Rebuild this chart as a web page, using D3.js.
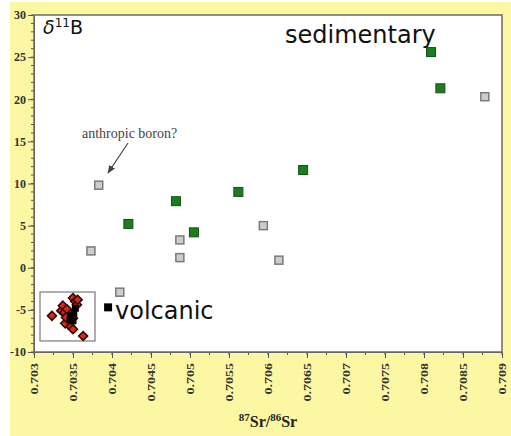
<!DOCTYPE html>
<html><head><meta charset="utf-8">
<script src="https://cdn.jsdelivr.net/npm/d3@7/dist/d3.min.js"></script>
<style>body{margin:0;background:#fff}svg{display:block}</style>
</head><body>
<svg id="c" width="511" height="436"></svg>
<script>
// ---- data ----
const xTickValues = [0.703,0.7035,0.704,0.7045,0.705,0.7055,0.706,0.7065,0.707,0.7075,0.708,0.7085,0.709];
const xTickLabels = ["0.703","0.7035","0.704","0.7045","0.705","0.7055","0.706","0.7065","0.707","0.7075","0.708","0.7085","0.709"];
const yTickValues = [30,25,20,15,10,5,0,-5,-10];
const yTickLabels = ["30","25","20","15","10","5","0","-5","-10"];
const greyX = [0.70383,0.70373,0.70487,0.70487,0.70594,0.70614,0.70878,0.70410];
const greyY = [9.8,2.0,3.3,1.2,5.0,0.9,20.3,-2.9];
const greenX = [0.70809,0.70821,0.70645,0.70562,0.70482,0.70505,0.70421];
const greenY = [25.6,21.3,11.6,9.0,7.9,4.2,5.2];
const volcX = [0.70395];
const volcY = [-4.7];
const redX = [0.70323,0.70335,0.70337,0.70339,0.70342,0.70350,0.70353,0.70355,0.70356,0.70340,0.70347,0.70350,0.70363,0.70341,0.70350];
const redY = [-5.7,-5.1,-4.5,-5.3,-4.9,-3.6,-4.0,-4.4,-3.8,-6.6,-7.0,-7.3,-8.1,-5.9,-6.0];
const blackX = [0.70347,0.70351,0.70350,0.70353,0.70346];
const blackY = [-5.7,-5.4,-6.3,-4.8,-6.2];
const boxX = [0.703077,0.703782];
const boxY = [-2.88,-8.69];

// ---- drawing ----
const svg = d3.select("#c");
svg.append("rect").attr("x",10).attr("y",2).attr("width",501).attr("height",434).attr("fill","#fcf7a2");
const x = d3.scaleLinear().domain([0.703,0.709]).range([34,502]);
const y = d3.scaleLinear().domain([-10,30]).range([352,15]);
svg.append("rect").attr("x",x(0.703)).attr("y",y(30)).attr("width",x(0.709)-x(0.703)).attr("height",y(-10)-y(30)).attr("fill","#fff");

// minor ticks
const xMinor = d3.range(0,25).map(i=>0.703+i*0.00025);
const yMinor = d3.range(-10,31,1);
svg.append("g").selectAll("line").data(xMinor).join("line")
  .attr("x1",d=>x(d)).attr("x2",d=>x(d)).attr("y1",y(-10)).attr("y2",y(-10)+3)
  .attr("stroke","#555").attr("stroke-width",1);
svg.append("g").selectAll("line").data(yMinor).join("line")
  .attr("y1",d=>y(d)).attr("y2",d=>y(d)).attr("x1",x(0.703)-3).attr("x2",x(0.703))
  .attr("stroke","#555").attr("stroke-width",1);

// axes
const xa = svg.append("g").attr("transform",`translate(0,${y(-10)})`)
  .call(d3.axisBottom(x).tickValues(xTickValues).tickFormat((d,i)=>xTickLabels[i]).tickSize(6).tickSizeOuter(0));
xa.select(".domain").attr("stroke","#555");
xa.selectAll(".tick line").attr("stroke","#555");
xa.selectAll(".tick text")
  .attr("font-family","'Liberation Serif','Times New Roman',serif").attr("font-weight","bold")
  .attr("font-size",14).attr("fill","#333")
  .attr("text-anchor","end").attr("dy","0.35em").attr("x",-11).attr("y",0)
  .attr("transform","rotate(-90) scale(1,0.8)");
const ya = svg.append("g").attr("transform",`translate(${x(0.703)},0)`)
  .call(d3.axisLeft(y).tickValues(yTickValues).tickFormat((d,i)=>yTickLabels[i]).tickSize(6).tickSizeOuter(0));
ya.select(".domain").attr("stroke","#555");
ya.selectAll(".tick line").attr("stroke","#555");
ya.selectAll(".tick text")
  .attr("font-family","'Liberation Serif','Times New Roman',serif").attr("font-weight","bold")
  .attr("font-size",12).attr("fill","#333").attr("x",-8);

// frame
svg.append("rect").attr("x",x(0.703)).attr("y",y(30)).attr("width",x(0.709)-x(0.703)).attr("height",y(-10)-y(30))
  .attr("fill","none").attr("stroke","#6b6b6b").attr("stroke-width",1.5);

// volcanic box
svg.append("rect").attr("x",x(boxX[0])).attr("y",y(boxY[0])).attr("width",x(boxX[1])-x(boxX[0])).attr("height",y(boxY[1])-y(boxY[0]))
  .attr("fill","#fff").attr("stroke","#7a7a7a").attr("stroke-width",1.2);

// red diamonds
svg.append("g").selectAll("path").data(redX).join("path")
  .attr("d",d3.symbol(d3.symbolSquare,40))
  .attr("transform",(d,i)=>`translate(${x(d)},${y(redY[i])}) rotate(45)`)
  .attr("fill","#d42a1c").attr("stroke","#3a0505").attr("stroke-width",1.6);
// black squares
svg.append("g").selectAll("rect").data(blackX).join("rect")
  .attr("x",d=>x(d)-3.5).attr("y",(d,i)=>y(blackY[i])-3.5).attr("width",7).attr("height",7).attr("fill","#000");

// grey squares
svg.append("g").selectAll("rect").data(greyX).join("rect")
  .attr("x",d=>x(d)-4).attr("y",(d,i)=>y(greyY[i])-4).attr("width",8).attr("height",8)
  .attr("fill","#cdcdcd").attr("stroke","#7a7a7a").attr("stroke-width",1.5);
// green squares
svg.append("g").selectAll("rect").data(greenX).join("rect")
  .attr("x",d=>x(d)-4.5).attr("y",(d,i)=>y(greenY[i])-4.5).attr("width",9).attr("height",9)
  .attr("fill","#16801a").attr("stroke","#1f4a1f").attr("stroke-width",1);
// volcanic black square
svg.append("g").selectAll("rect").data(volcX).join("rect")
  .attr("x",d=>x(d)-4).attr("y",(d,i)=>y(volcY[i])-4).attr("width",8).attr("height",8).attr("fill","#000");

// annotation arrow
const defs = svg.append("defs");
defs.append("marker").attr("id","ah").attr("viewBox","0 0 10 10").attr("refX",9).attr("refY",5)
  .attr("markerWidth",7).attr("markerHeight",7).attr("orient","auto")
  .append("path").attr("d","M0,1 L10,5 L0,9 z").attr("fill","#444");
svg.append("line").attr("x1",128).attr("y1",143).attr("x2",108).attr("y2",173)
  .attr("stroke","#444").attr("stroke-width",1.2).attr("marker-end","url(#ah)");
svg.append("text").attr("x",82).attr("y",138).text("anthropic boron?")
  .attr("font-family","'Liberation Serif','Times New Roman',serif").attr("font-size",14).attr("fill","#444");

// labels
const dl = svg.append("text").attr("x",43).attr("y",34)
  .attr("font-family","'DejaVu Sans',sans-serif").attr("font-size",19).attr("fill","#111");
dl.append("tspan").attr("font-style","italic").text("δ");
dl.append("tspan").attr("font-size",12).attr("dy",-7).text("11");
dl.append("tspan").attr("dy",7).text("B");

svg.append("text").attr("x",285).attr("y",43).text("sedimentary")
  .attr("font-family","'DejaVu Sans',sans-serif").attr("font-size",24).attr("fill","#111");
svg.append("text").attr("x",115).attr("y",319).text("volcanic")
  .attr("font-family","'DejaVu Sans',sans-serif").attr("font-size",24).attr("fill","#111");

// x axis title
const xt = svg.append("text").attr("x",268).attr("y",427).attr("text-anchor","middle")
  .attr("font-family","'Liberation Serif','Times New Roman',serif").attr("font-weight","bold").attr("font-size",16).attr("fill","#222");
xt.append("tspan").attr("font-size",11).attr("dy",-6).text("87");
xt.append("tspan").attr("dy",6).text("Sr/");
xt.append("tspan").attr("font-size",11).attr("dy",-6).text("86");
xt.append("tspan").attr("dy",6).text("Sr");
</script>
</body></html>
